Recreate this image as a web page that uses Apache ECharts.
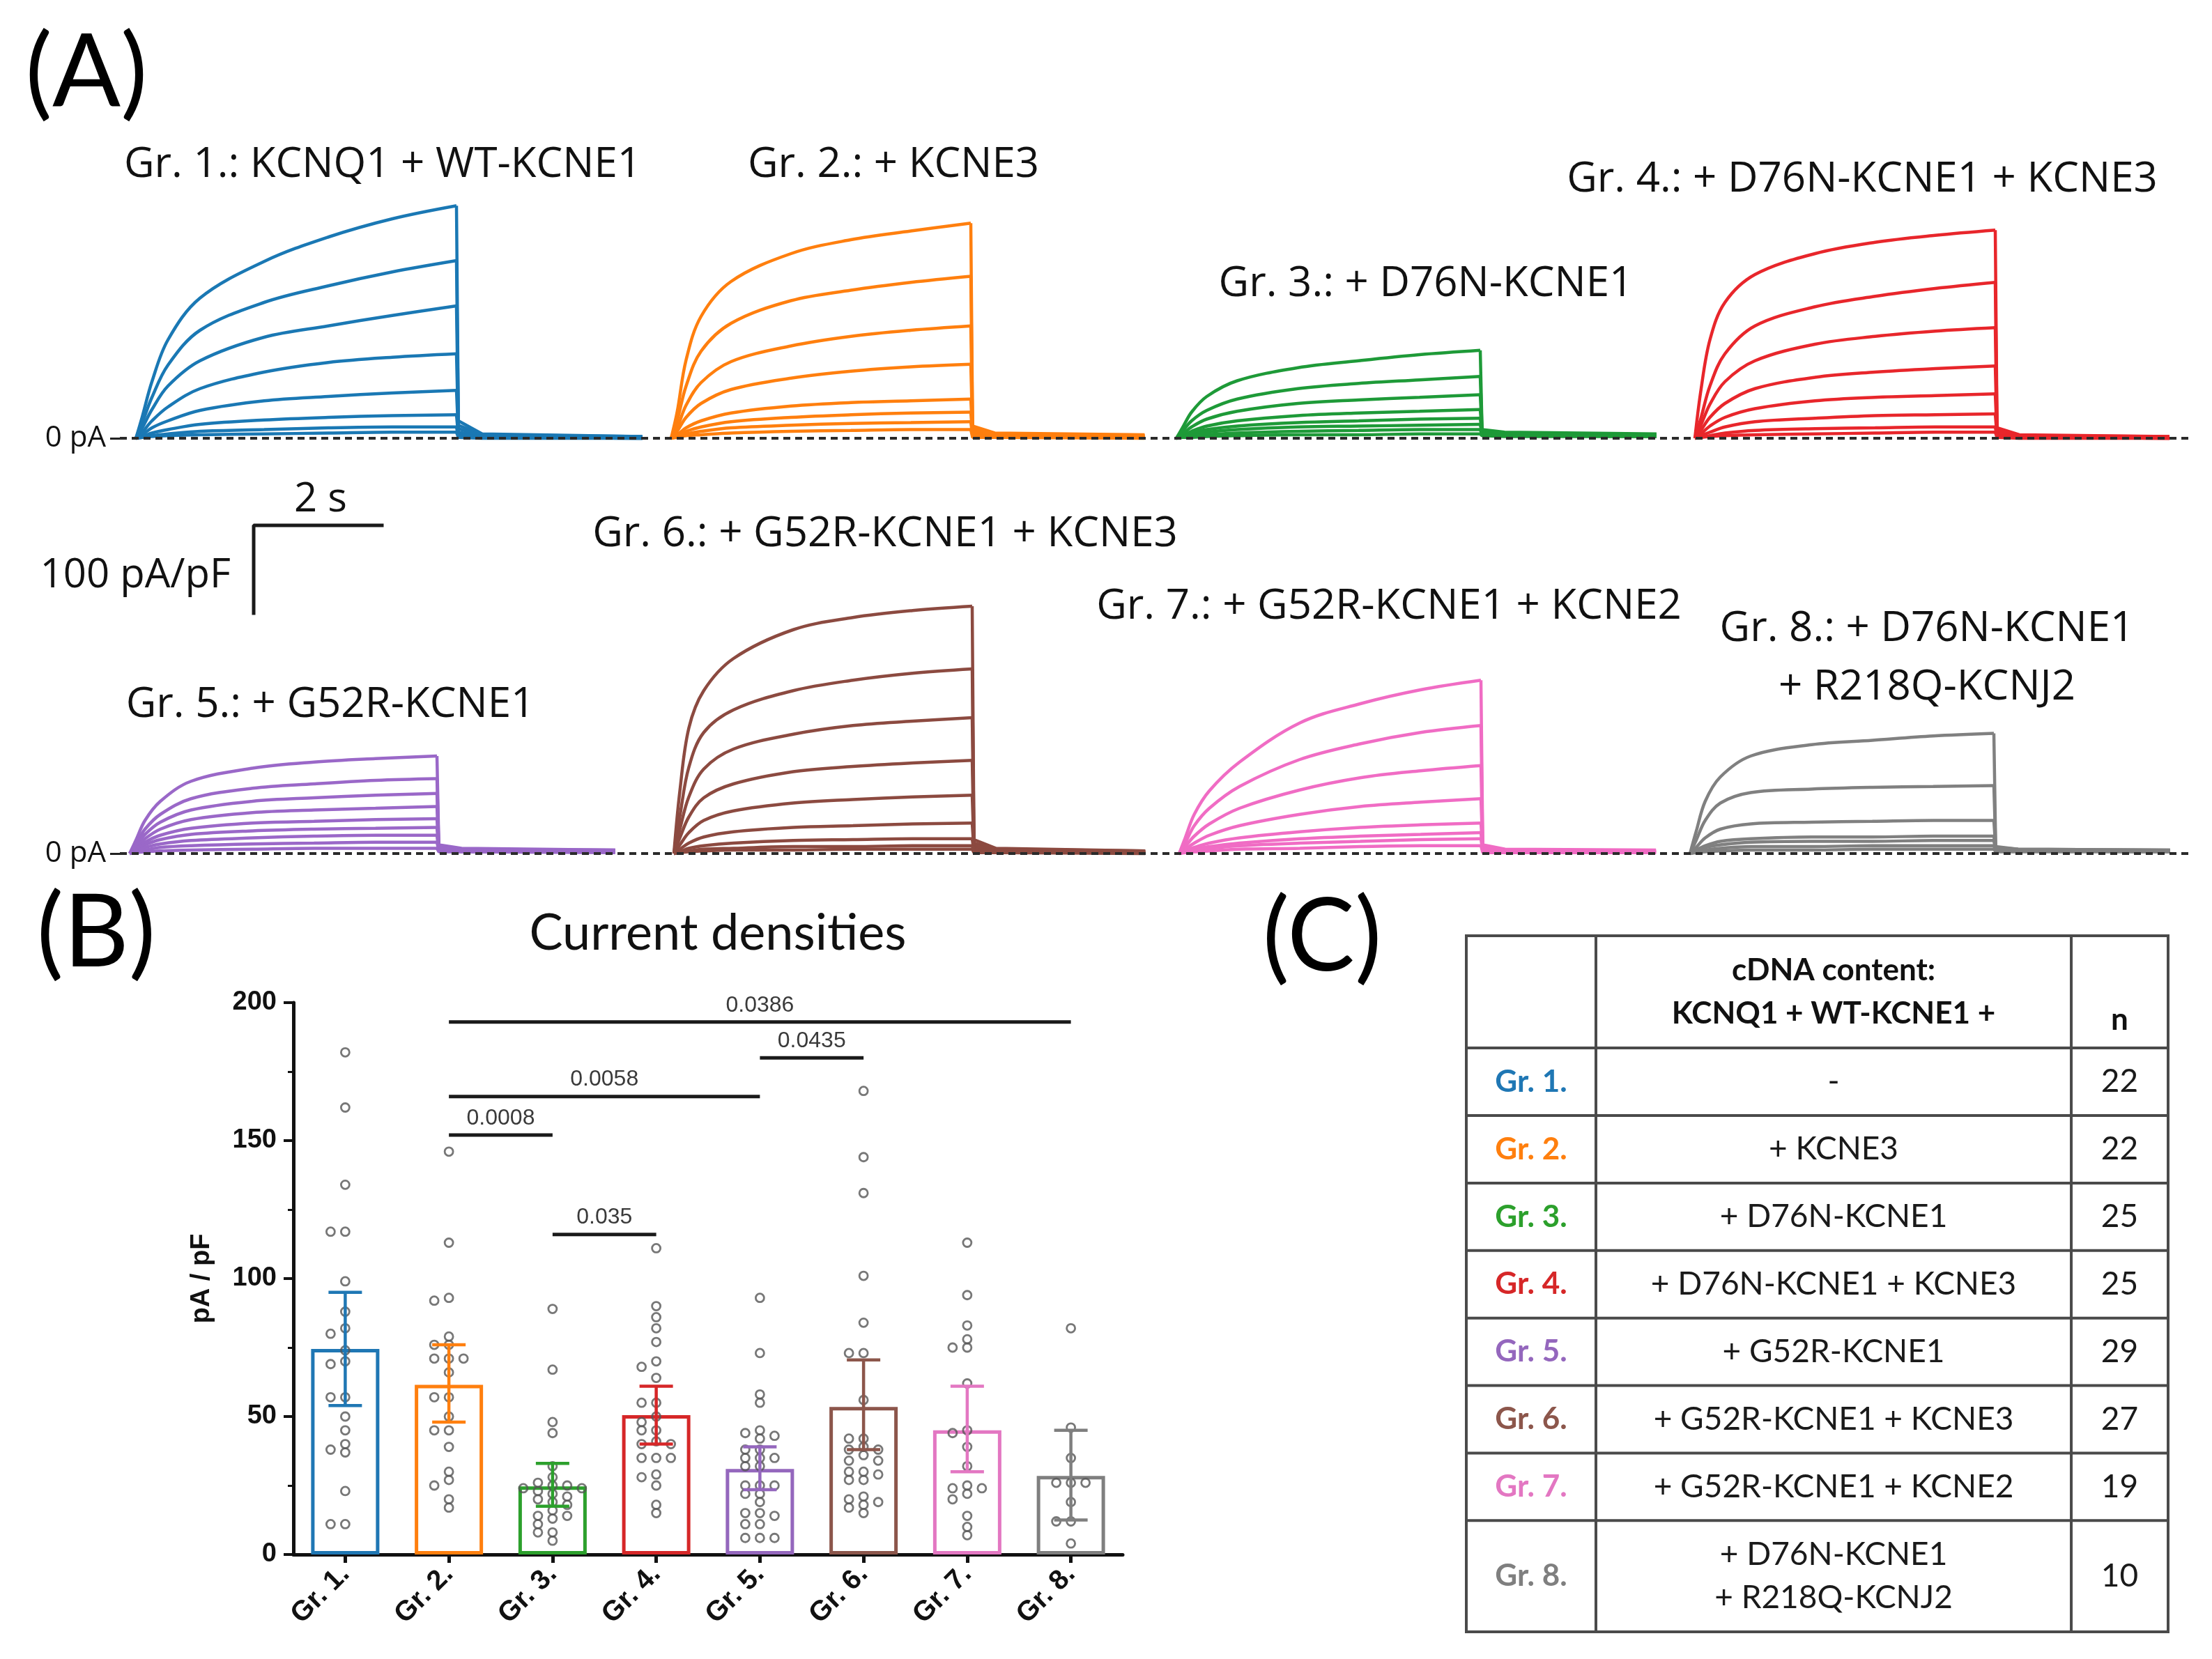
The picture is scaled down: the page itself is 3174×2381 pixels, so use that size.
<!DOCTYPE html>
<html><head><meta charset="utf-8">
<script src="https://cdn.jsdelivr.net/npm/echarts@6/dist/echarts.min.js"></script>
<style>html,body{margin:0;padding:0;background:#fff}#c{width:3174px;height:2381px}</style>
</head><body><div id="c"></div>
<script>
// ---------------- DATA ----------------
const groupNames = ['Gr. 1.','Gr. 2.','Gr. 3.','Gr. 4.','Gr. 5.','Gr. 6.','Gr. 7.','Gr. 8.'];
const groupColors = ['#1f77b4','#ff7f0e','#2ca02c','#d62728','#9467bd','#8c564b','#e377c2','#7f7f7f'];
const traceColors = ['#1a78b4','#ff7f0e','#1e9a38','#e8262b','#9a68c8','#8c4a40','#f06cc4','#808080'];
const traceTitles = ['Gr. 1.: KCNQ1 + WT-KCNE1','Gr. 2.: + KCNE3','Gr. 3.: + D76N-KCNE1','Gr. 4.: + D76N-KCNE1 + KCNE3',
  'Gr. 5.: + G52R-KCNE1','Gr. 6.: + G52R-KCNE1 + KCNE3','Gr. 7.: + G52R-KCNE1 + KCNE2','Gr. 8.: + D76N-KCNE1\n+ R218Q-KCNJ2'];

// Panel A: current traces (pA/pF) sampled at pulseTimes (s); tails at tailTimes
const pulseTimes = [0, 0.1, 0.25, 0.5, 1, 2, 3, 4, 5];
const tailTimes = [5.03, 5.4, 7.9];
const gr1Sweeps = [[0,25,65,113,161,203,231,252,267],[0,18,47,84,124,156,175,191,204],[0,12,33,60,89,116,129,141,152],
  [0,7,20,36,57,76,87,93,97],[0,4,12,20,32,43,48,52,55],[0,2,6,10,16,21,24,26,27],[0,1,3,5,8,10,12,13,13],[0,1,2,3,4,5,6,7,7]];
const gr1Tails = [[20,5,2],[15,4,2],[11,3,1],[7,2,1],[4,2,1],[2,1,0],[1,1,0],[1,0,0]];
const gr2Sweeps = [[0,30,90,140,180,212,228,238,247],[0,20,60,100,132,158,170,179,186],[0,12,38,64,88,106,117,124,129],
  [0,8,24,40,56,69,77,82,85],[0,4,12,20,29,37,41,43,45],[0,3,8,13,19,24,27,29,30],[0,2,5,8,12,15,17,18,19],[0,1,3,4,6,8,9,10,10]];
const gr2Tails = [[14,6,4],[11,5,3],[8,4,3],[6,3,2],[4,2,2],[3,2,1],[2,1,1],[1,1,0]];
const gr3Sweeps = [[0,12,30,48,66,81,89,96,101],[0,8,20,32,45,57,63,67,71],[0,5,13,22,31,40,44,47,50],
  [0,3,8,14,20,26,29,31,33],[0,2,6,10,14,18,20,22,23],[0,2,4,7,10,13,14,15,16],[0,1,3,4,6,8,9,10,10],[0,1,1,2,3,4,4,5,5]];
const gr3Tails = [[10,7,5],[9,6,4],[8,5,4],[7,5,3],[6,4,3],[5,4,3],[4,3,2],[3,2,2]];
const gr4Sweeps = [[0,55,113,156,188,212,225,233,239],[0,23,60,97,129,151,163,172,179],[0,15,39,65,89,108,117,123,127],
  [0,9,24,40,57,70,76,80,83],[0,5,14,24,34,43,47,49,51],[0,3,7,13,19,23,26,27,28],[0,1,3,6,9,11,12,13,13],[0,1,2,3,4,5,6,7,7]];
const gr4Tails = [[12,4,2],[9,3,2],[7,3,1],[5,2,1],[3,2,1],[2,1,0],[1,1,0],[1,0,0]];
const gr5Sweeps = [[0,15,38,60,83,98,105,109,112],[0,11,28,45,63,75,80,84,86],[0,9,22,36,50,60,64,67,69],
  [0,7,17,28,39,47,50,52,54],[0,5,13,21,29,35,37,39,40],[0,4,10,16,22,26,28,29,30],[0,3,7,11,15,18,20,21,21],
  [0,2,4,7,9,11,12,13,13],[0,1,2,3,4,5,6,6,6]];
const gr5Tails = [[10,6,4],[8,5,4],[7,5,3],[6,4,3],[5,4,3],[4,3,2],[3,3,2],[3,2,2],[2,2,1]];
const gr6Sweeps = [[0,72,144,187,224,257,271,279,284],[0,43,99,139,165,187,199,207,212],[0,28,65,97,120,137,147,152,156],
  [0,18,42,64,80,94,100,104,107],[0,10,24,38,49,58,62,65,67],[0,5,12,19,25,30,32,34,35],[0,2,6,9,12,15,16,17,17],
  [0,1,3,5,6,8,8,9,9],[0,1,2,3,4,4,5,5,5]];
const gr6Tails = [[16,6,3],[12,5,3],[9,4,2],[7,3,2],[5,3,2],[3,2,1],[2,2,1],[1,1,1],[1,1,0]];
const gr7Sweeps = [[0,18,45,72,105,150,172,188,199],[0,12,32,52,77,108,126,139,147],[0,8,20,34,52,73,87,95,101],
  [0,5,12,21,32,45,54,59,63],[0,3,7,12,18,25,30,33,35],[0,2,5,8,12,17,20,22,24],[0,2,4,6,9,12,14,16,17],[0,1,2,3,5,6,8,9,9]];
const gr7Tails = [[10,5,4],[8,4,3],[7,4,3],[5,3,2],[4,3,2],[3,2,2],[2,2,1],[1,1,1]];
const gr8Sweeps = [[0,25,60,88,112,125,130,135,138],[0,15,38,58,70,74,76,77,78],[0,7,18,28,34,36,37,38,38],
  [0,4,9,14,17,19,19,20,20],[0,3,7,10,13,14,14,15,15],[0,2,4,6,8,8,9,9,9],[0,1,2,3,4,4,5,5,5]];
const gr8Tails = [[8,5,4],[7,5,4],[6,4,3],[5,4,3],[4,3,3],[3,3,2],[2,2,2]];

// scale bar: 2 s / 100 pA/pF
const scaleBarX = [2, 0, 0];
const scaleBarY = [100, 100, 0];

// Panel B: current densities (pA/pF)
const meanDensity = [74.5, 61.5, 24.7, 50.5, 31, 53.5, 45, 28.5];
const errLow = [54, 48, 17.5, 40, 23.5, 38, 30, 12.5];
const errHigh = [95, 76, 33, 61, 39, 70.5, 61, 45];
const cellsGr1 = [182,162,134,117,117,99,88,82,80,74,70,69,57,57,50,45,40,38,37,23,11,11];
const cellsGr2 = [146,113,93,92,79,76,76,71,71,71,66,57,57,50,45,45,39,30,27,25,20,17];
const cellsGr3 = [89,67,48,44,32,28,26,25,25,24,24,23,22,21,20,19,18,16,14,14,13,11,8,8,5];
const cellsGr4 = [111,90,86,82,77,70,68,64,55,55,50,48,45,45,41,40,40,35,35,35,29,28,25,18,15];
const cellsGr5 = [93,73,58,55,45,44,43,42,38,38,35,35,35,32,32,25,25,25,22,22,19,15,15,14,11,11,6,6,6];
const cellsGr6 = [168,144,131,101,84,73,73,56,42,42,39,38,38,36,34,34,30,30,29,27,27,21,20,19,18,17,15];
const cellsGr7 = [113,94,83,78,75,75,62,45,44,39,32,25,24,24,22,20,14,10,7];
const cellsGr8 = [82,46,35,26,26,26,19,12,12,4];
const yTicksB = [0, 50, 100, 150, 200];
const bracketPairs = [[1,7],[4,5],[1,4],[1,2],[2,3]];
const bracketLevels = [193, 180, 166, 152, 116];
const bracketLabels = ['0.0386','0.0435','0.0058','0.0008','0.035'];

// Panel C: table
const tableHeader = ['', 'cDNA content:\nKCNQ1 + WT-KCNE1 +', 'n'];
const tableContent = ['-','+ KCNE3','+ D76N-KCNE1','+ D76N-KCNE1 + KCNE3','+ G52R-KCNE1','+ G52R-KCNE1 + KCNE3','+ G52R-KCNE1 + KCNE2','+ D76N-KCNE1\n+ R218Q-KCNJ2'];
const tableN = [22, 22, 25, 25, 29, 27, 19, 10];

// ---------------- LAYOUT ----------------
const sweepSets = [gr1Sweeps,gr2Sweeps,gr3Sweeps,gr4Sweeps,gr5Sweeps,gr6Sweeps,gr7Sweeps,gr8Sweeps];
const tailSets = [gr1Tails,gr2Tails,gr3Tails,gr4Tails,gr5Tails,gr6Tails,gr7Tails,gr8Tails];
const cellSets = [cellsGr1,cellsGr2,cellsGr3,cellsGr4,cellsGr5,cellsGr6,cellsGr7,cellsGr8];
// [pulse start px, pulse end px, zero-line px]
const traceGeom = [[195,655,629],[963,1393,629],[1688,2124,629],[2432,2863,629],
                   [186,627,1225],[967,1395,1225],[1692,2125,1225],[2425,2861,1225]];
const kA = 1.25, yMaxA = 300;
const tPulse = pulseTimes[pulseTimes.length-1];
const tEnd = tailTimes[tailTimes.length-1];
const titlePos = [[549,237],[1282,237],[2046,408],[2672,258],[474,1012],[1270,767],[1993,871],[2765,945]];

const fontA = 'Open Sans';
const fontT = 'Lato';
const fontB = 'Liberation Sans';

const grids = [], xAxes = [], yAxes = [], series = [];
const noAxis = (gi, extra) => Object.assign({gridIndex: gi, show: false, type: 'value'}, extra);

// trace grids 0-7
traceGeom.forEach((g, i) => {
  const w = (g[1]-g[0]) * tEnd / tPulse;
  grids.push({left: g[0], top: g[2] - yMaxA*kA, width: w, height: yMaxA*kA, outerBoundsMode: 'none'});
  xAxes.push(noAxis(i, {min: 0, max: tEnd}));
  yAxes.push(noAxis(i, {min: 0, max: yMaxA}));
});
// baseline grids 8,9
[629, 1225].forEach((base, r) => {
  const gi = 8 + r;
  grids.push({left: 172, top: base - yMaxA*kA, width: 2968, height: yMaxA*kA, outerBoundsMode: 'none'});
  xAxes.push(noAxis(gi, {min: 0, max: 1}));
  yAxes.push({type: 'value', gridIndex: gi, min: 0, max: yMaxA, position: 'left',
    axisLine: {show: false, onZero: false}, splitLine: {show: false},
    axisTick: {show: true, customValues: [0], length: 14, lineStyle: {color: '#222', width: 3}},
    axisLabel: {show: true, customValues: [0], formatter: () => '0 pA', margin: 20,
      fontFamily: fontA, fontSize: 42, color: '#111'}});
  series.push({type: 'line', xAxisIndex: gi, yAxisIndex: gi, data: [[0,0],[1,0]], symbol: 'none', silent: true,
    z: 5, clip: false, lineStyle: {color: '#2a2a2a', width: 4, type: [10, 7]}});
});
// scale bar grid 10
grids.push({left: 364, top: 754, width: 184, height: 126, outerBoundsMode: 'none'});
xAxes.push(noAxis(10, {min: 0, max: 2}));
yAxes.push(noAxis(10, {min: 0, max: 100}));
series.push({type: 'line', xAxisIndex: 10, yAxisIndex: 10, symbol: 'none', clip: false, silent: true,
  data: scaleBarX.map((x, i) => [x, scaleBarY[i]]), lineStyle: {color: '#1a1a1a', width: 5, cap: 'square'}});

// traces
sweepSets.forEach((sw, g) => {
  sw.forEach((vals, s) => {
    series.push({type: 'line', xAxisIndex: g, yAxisIndex: g, symbol: 'none', smooth: 0.35, clip: false, silent: true,
      data: pulseTimes.map((t, j) => [t, vals[j]]), lineStyle: {color: traceColors[g], width: 4.5}, z: 3});
    const tl = tailSets[g][s];
    series.push({type: 'line', xAxisIndex: g, yAxisIndex: g, symbol: 'none', clip: false, silent: true,
      data: [[tPulse, vals[vals.length-1]]].concat(tailTimes.map((t, j) => [t, tl[j]])),
      lineStyle: {color: traceColors[g], width: 4.5}, z: 3});
  });
});

// Panel B grid 11
const gB = 11;
grids.push({left: 421, top: 1439, width: 1190, height: 792, outerBoundsMode: 'none'});
xAxes.push({type: 'category', gridIndex: gB, data: groupNames, boundaryGap: true,
  axisLine: {show: true, onZero: false, lineStyle: {color: '#111', width: 5}},
  axisTick: {show: true, alignWithLabel: true, length: 12, lineStyle: {color: '#111', width: 5}},
  axisLabel: {rotate: 45, fontFamily: fontB, fontWeight: 'bold', fontSize: 40, color: '#111', margin: 22}});
xAxes.push({type: 'value', gridIndex: gB, min: -0.5, max: 7.5, show: false, axisLine: {onZero: false}});
yAxes.push({type: 'value', gridIndex: gB, min: yTicksB[0], max: yTicksB[yTicksB.length-1], interval: 50,
  position: 'left',
  name: 'pA / pF', nameLocation: 'middle', nameGap: 112, nameRotate: 90,
  nameTextStyle: {fontFamily: fontB, fontWeight: 'bold', fontSize: 38, color: '#111'},
  axisLine: {show: true, onZero: false, lineStyle: {color: '#111', width: 5}},
  axisTick: {show: true, length: 14, lineStyle: {color: '#111', width: 4}},
  minorTick: {show: true, splitNumber: 2, length: 8, lineStyle: {color: '#111', width: 3}},
  splitLine: {show: false},
  axisLabel: {fontFamily: fontB, fontWeight: 'bold', fontSize: 38, color: '#111', margin: 24}});
const xCatB = 11, xValB = 12;

series.push({type: 'bar', xAxisIndex: xCatB, yAxisIndex: gB, barWidth: 98, z: 2, silent: true,
  data: meanDensity.map((v, i) => ({value: v, itemStyle: {color: '#ffffff', borderColor: groupColors[i], borderWidth: 5}}))});

// beeswarm layout of individual cells
const pxPerUnitB = 792 / 200, catPx = 1190 / 8, colStep = 21, dotD = 11.5;
function swarm(values) {
  const placed = [], out = [];
  const order = values.map((v, i) => i).sort((a, b) => values[b] - values[a]);
  order.forEach(i => {
    const y = values[i] * pxPerUnitB;
    for (let k = 0; k < 30; k++) {
      const c = k === 0 ? 0 : (k % 2 ? -Math.ceil(k / 2) : Math.ceil(k / 2));
      const x = c * colStep;
      if (!placed.some(p => Math.hypot(p[0] - x, p[1] - y) < dotD)) {
        placed.push([x, y]); out.push([x / catPx, values[i]]); break;
      }
    }
  });
  return out;
}
const dotData = [];
cellSets.forEach((vals, g) => swarm(vals).forEach(d => dotData.push([g + d[0], d[1]])));
series.push({type: 'scatter', xAxisIndex: xValB, yAxisIndex: gB, data: dotData, symbol: 'circle', symbolSize: 12,
  z: 3, silent: true, itemStyle: {color: 'rgba(255,255,255,0)', borderColor: '#555555', borderWidth: 2.8}});

series.push({type: 'custom', xAxisIndex: xValB, yAxisIndex: gB, z: 4, silent: true, clip: false,
  data: groupNames.map((_, i) => [i, errLow[i], errHigh[i]]),
  renderItem: (p, api) => {
    const i = p.dataIndex;
    const a = api.coord([api.value(0), api.value(1)]), b = api.coord([api.value(0), api.value(2)]);
    const cw = 24, st = {stroke: groupColors[i], lineWidth: 4.5};
    return {type: 'group', children: [
      {type: 'line', shape: {x1: a[0], y1: a[1], x2: b[0], y2: b[1]}, style: st},
      {type: 'line', shape: {x1: a[0]-cw, y1: a[1], x2: a[0]+cw, y2: a[1]}, style: st},
      {type: 'line', shape: {x1: b[0]-cw, y1: b[1], x2: b[0]+cw, y2: b[1]}, style: st}]};
  }});

series.push({type: 'custom', xAxisIndex: xValB, yAxisIndex: gB, z: 4, silent: true, clip: false,
  data: bracketPairs.map((pr, i) => [pr[0], bracketLevels[i], pr[1]]),
  renderItem: (p, api) => {
    const i = p.dataIndex;
    const a = api.coord([api.value(0), api.value(1)]), b = api.coord([api.value(2), api.value(1)]);
    return {type: 'group', children: [
      {type: 'line', shape: {x1: a[0], y1: a[1], x2: b[0], y2: b[1]}, style: {stroke: '#1a1a1a', lineWidth: 5}},
      {type: 'text', style: {text: bracketLabels[i], x: (a[0]+b[0])/2, y: a[1] - 8, textAlign: 'center',
        textVerticalAlign: 'bottom', font: '32px "Liberation Sans"', fill: '#3a3a3a'}}]};
  }});

// Panel C table grid 12
const colEdges = [0, 0.1847, 0.862, 1];
const rowSpans = [1.663, 1, 1, 1, 1, 1, 1, 1, 1.648];
const rowTops = rowSpans.reduce((acc, s, i) => { acc.push(i ? acc[i-1] + rowSpans[i-1] : 0); return acc; }, []);
const totalRows = rowSpans.reduce((a, b) => a + b, 0);
grids.push({left: 2104, top: 1343, width: 1007, height: 999, outerBoundsMode: 'none'});
xAxes.push(noAxis(12, {min: 0, max: 1}));
yAxes.push(noAxis(12, {min: 0, max: totalRows, inverse: true}));
series.push({type: 'custom', xAxisIndex: 13, yAxisIndex: 12, silent: true, clip: false, z: 2,
  data: rowSpans.map((s, i) => [i]),
  renderItem: (p, api) => {
    const r = p.dataIndex;
    const y0 = rowTops[r], y1 = y0 + rowSpans[r];
    const lineSt = {stroke: '#4a4a4a', lineWidth: 4};
    const ch = [];
    const P = (x, y) => api.coord([x, y]);
    if (r === 0) { const a = P(0, y0), b = P(1, y0); ch.push({type: 'line', shape: {x1: a[0]-2, y1: a[1], x2: b[0]+2, y2: b[1]}, style: lineSt}); }
    { const a = P(0, y1), b = P(1, y1); ch.push({type: 'line', shape: {x1: a[0]-2, y1: a[1], x2: b[0]+2, y2: b[1]}, style: lineSt}); }
    colEdges.forEach(cx => { const a = P(cx, y0), b = P(cx, y1); ch.push({type: 'line', shape: {x1: a[0], y1: a[1], x2: b[0], y2: b[1]}, style: lineSt}); });
    const cxs = [0, 1, 2].map(c => (colEdges[c] + colEdges[c+1]) / 2);
    const ym = (y0 + y1) / 2;
    const txt = (text, cx, cy, font, fill) => { const q = P(cx, cy); ch.push({type: 'text', style: {text, x: q[0], y: q[1],
      textAlign: 'center', textVerticalAlign: 'middle', font, fill}}); };
    if (r === 0) {
      const lines = tableHeader[1].split('\n');
      const c = P(cxs[1], ym);
      lines.forEach((l, k) => ch.push({type: 'text', style: {text: l, x: c[0], y: c[1] + (k - (lines.length-1)/2) * 62,
        textAlign: 'center', textVerticalAlign: 'middle', font: 'bold 44px Lato', fill: '#111'}}));
      const n = P(cxs[2], ym);
      ch.push({type: 'text', style: {text: tableHeader[2], x: n[0], y: n[1] + 40, textAlign: 'center',
        textVerticalAlign: 'middle', font: 'bold 44px Lato', fill: '#111'}});
    } else {
      const g = r - 1;
      txt(groupNames[g], cxs[0], ym, 'bold 44px Lato', groupColors[g]);
      const lines = tableContent[g].split('\n');
      const c = P(cxs[1], ym);
      lines.forEach((l, k) => ch.push({type: 'text', style: {text: l, x: c[0], y: c[1] + (k - (lines.length-1)/2) * 62,
        textAlign: 'center', textVerticalAlign: 'middle', font: '46px Lato', fill: '#1a1a1a'}}));
      txt(String(tableN[g]), cxs[2], ym, '46px Lato', '#1a1a1a');
    }
    return {type: 'group', children: ch};
  }});

// text elements
const graphics = [];
traceTitles.forEach((t, i) => graphics.push({type: 'text', x: titlePos[i][0], y: titlePos[i][1],
  style: {text: t, textAlign: 'center', textVerticalAlign: 'middle', font: '60px "Open Sans"', fill: '#111', lineHeight: 84}}));
[['(A)', 124, 106], ['(B)', 138, 1340], ['(C)', 1897, 1346]].forEach(l => graphics.push({type: 'text', x: l[1], y: l[2],
  style: {text: l[0], textAlign: 'center', textVerticalAlign: 'middle', font: '145px Lato', fill: '#000'}}));
graphics.push({type: 'text', x: 460, y: 717, style: {text: '2 s', textAlign: 'center', textVerticalAlign: 'middle', font: '58px "Open Sans"', fill: '#111'}});
graphics.push({type: 'text', x: 331, y: 826, style: {text: '100 pA/pF', textAlign: 'right', textVerticalAlign: 'middle', font: '58px "Open Sans"', fill: '#111'}});
graphics.push({type: 'text', x: 1030, y: 1340, style: {text: 'Current densities', textAlign: 'center', textVerticalAlign: 'middle', font: '72px Lato', fill: '#111'}});

const chart = echarts.init(document.getElementById('c'), null, {width: 3174, height: 2381});
chart.setOption({
  backgroundColor: '#ffffff', animation: false,
  textStyle: {fontFamily: fontT},
  grid: grids, xAxis: xAxes, yAxis: yAxes, series: series, graphic: {elements: graphics}
});
</script></body></html>
